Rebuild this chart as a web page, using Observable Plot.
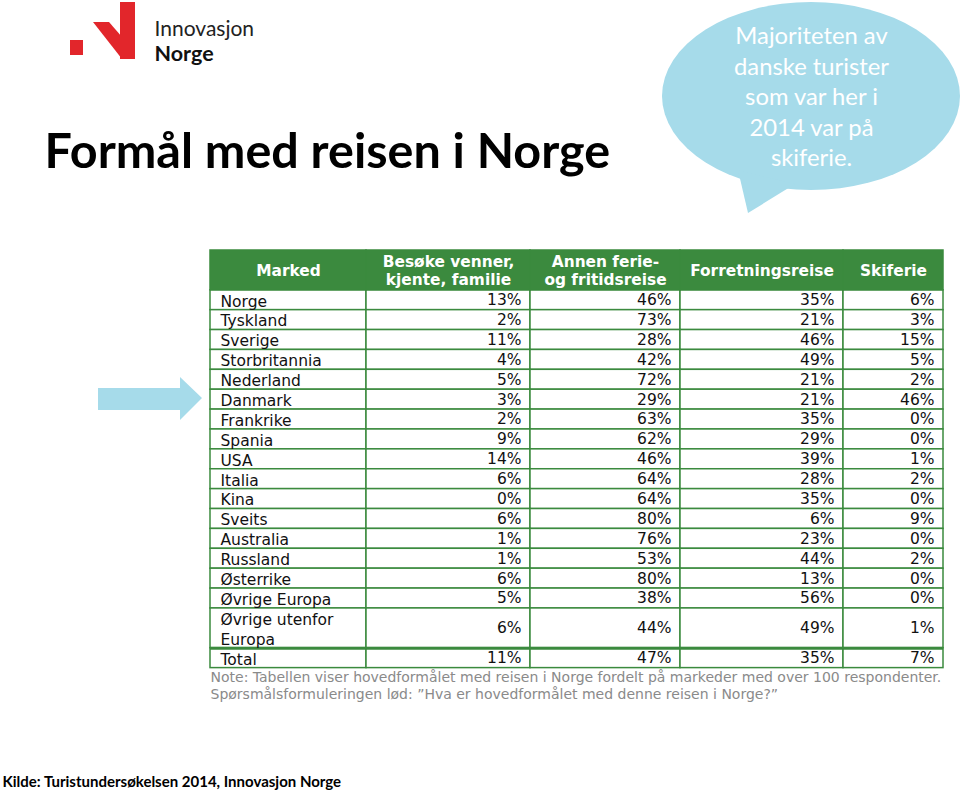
<!DOCTYPE html>
<html>
<head>
<meta charset="utf-8">
<script src="https://cdn.jsdelivr.net/npm/d3@7"></script>
<script src="https://cdn.jsdelivr.net/npm/@observablehq/plot@0.6"></script>
<style>
  html, body { margin: 0; padding: 0; background: #fff; }
  #wrap { position: relative; width: 960px; height: 790px; overflow: hidden; }
  #deco, #chart svg { position: absolute; left: 0; top: 0; }
</style>
</head>
<body>
<div id="wrap">
  <svg id="deco" width="960" height="790" viewBox="0 0 960 790">
    <!-- logo -->
    <rect x="70" y="40" width="13" height="15" fill="#e2262b"/>
    <polygon points="93,22 109,22 135,52 135,59 122,59" fill="#e2262b"/>
    <rect x="120" y="2" width="15" height="57" fill="#e2262b"/>
    <!-- speech bubble -->
    <ellipse cx="811" cy="96" rx="149" ry="94" fill="#a6dbea"/>
    <polygon points="738,170 748,213 795,184" fill="#a6dbea"/>
    <!-- arrow -->
    <polygon points="98,388 180,388 180,377 202,398 180,420 180,410 98,410" fill="#a6dbea"/>
  </svg>
  <div id="chart"></div>
</div>
<script>
// ---- data ----
const columns = ["Marked", "Besøke venner,\nkjente, familie", "Annen ferie-\nog fritidsreise", "Forretningsreise", "Skiferie"];
const markets = ["Norge", "Tyskland", "Sverige", "Storbritannia", "Nederland", "Danmark", "Frankrike", "Spania", "USA", "Italia", "Kina", "Sveits", "Australia", "Russland", "Østerrike", "Øvrige Europa", "Øvrige utenfor\nEuropa", "Total"];
const besokeVenner = [13, 2, 11, 4, 5, 3, 2, 9, 14, 6, 0, 6, 1, 1, 6, 5, 6, 11];
const annenFerie   = [46, 73, 28, 42, 72, 29, 63, 62, 46, 64, 64, 80, 76, 53, 80, 38, 44, 47];
const forretning   = [35, 21, 46, 49, 21, 21, 35, 29, 39, 28, 35, 6, 23, 44, 13, 56, 49, 35];
const skiferie     = [6, 3, 15, 5, 2, 46, 0, 0, 1, 2, 0, 9, 0, 2, 0, 0, 1, 7];
const title = "Formål med reisen i Norge";
const bubbleText = "Majoriteten av\ndanske turister\nsom var her i\n2014 var på\nskiferie.";
const noteText = "Note: Tabellen viser hovedformålet med reisen i Norge fordelt på markeder med over 100 respondenter.\nSpørsmålsformuleringen lød: \u201DHva er hovedformålet med denne reisen i Norge?\u201D";
const sourceText = "Kilde: Turistundersøkelsen 2014, Innovasjon Norge";
const logoText = ["Innovasjon", "Norge"];

// ---- layout (table geometry) ----
const green = "#3b8a3e";
const colWidths = [156, 164, 150, 163, 100];
const colEdges = colWidths.reduce((a, w) => (a.push(a[a.length - 1] + w), a), [0]);
const headerUnits = 2;
const series = [besokeVenner, annenFerie, forretning, skiferie];

let acc = headerUnits;
const rows = markets.map((m, i) => {
  const n = m.split("\n").length;
  const r = {market: m, i, y1: acc, y2: acc + n, yc: acc + n / 2};
  acc += n;
  return r;
});
const totalUnits = acc;

const headerCells = columns.map((c, j) => ({label: c, x1: colEdges[j], x2: colEdges[j + 1], xc: (colEdges[j] + colEdges[j + 1]) / 2}));
const cells = [];
const valueCells = [];
for (const r of rows) {
  for (let j = 0; j < columns.length; j++) {
    cells.push({x1: colEdges[j], x2: colEdges[j + 1], y1: r.y1, y2: r.y2});
    if (j > 0) valueCells.push({x: colEdges[j + 1], y: r.yc, text: series[j - 1][r.i] + "%"});
  }
}
const totalRow = rows[rows.length - 1];

const tableFont = "DejaVu Sans, Verdana, sans-serif";
const slideFont = "Lato, Carlito, Calibri, sans-serif";

const chart = Plot.plot({
  width: 960,
  height: 790,
  margin: 0,
  style: {background: "transparent", overflow: "visible"},
  x: {type: "linear", domain: [0, colEdges[colEdges.length - 1]], range: [210, 943], axis: null},
  y: {type: "linear", domain: [0, totalUnits], range: [250, 667.6], axis: null},
  marks: [
    // body cells
    Plot.rect(cells, {x1: "x1", x2: "x2", y1: "y1", y2: "y2", fill: "white", stroke: green, strokeWidth: 1.5}),
    // header
    Plot.rect(headerCells, {x1: "x1", x2: "x2", y1: () => 0, y2: () => headerUnits, fill: green, stroke: green, strokeWidth: 1.5}),
    Plot.ruleY([totalRow.y1], {x1: 0, x2: colEdges[colEdges.length - 1], stroke: green, strokeWidth: 3}),
    Plot.text(headerCells, {x: "xc", y: () => headerUnits / 2, text: "label", fill: "white", fontFamily: tableFont, fontWeight: "bold", fontSize: 15.4, lineHeight: 1.18}),
    Plot.text(rows, {x: () => 0, y: "yc", text: "market", textAnchor: "start", dx: 10, fill: "#111", fontFamily: tableFont, fontSize: 15.5, lineHeight: 1.28}),
    Plot.text(valueCells, {x: "x", y: "y", text: "text", textAnchor: "end", dx: -9, fill: "#111", fontFamily: tableFont, fontSize: 15.5}),
    // note
    Plot.text([noteText], {x: () => 0, y: () => totalUnits, text: d => d, textAnchor: "start", lineAnchor: "top", dy: 2, fill: "#8a8a8a", fontFamily: tableFont, fontSize: 14, lineHeight: 1.22}),
    // slide texts
    Plot.text([title], {frameAnchor: "top-left", text: d => d, textAnchor: "start", lineAnchor: "bottom", dx: 44, dy: 167, fill: "#000", fontFamily: slideFont, fontWeight: "bold", fontSize: 48.5}),
    Plot.text([bubbleText], {frameAnchor: "top-left", text: d => d, textAnchor: "middle", lineAnchor: "middle", dx: 811, dy: 95, fill: "white", fontFamily: slideFont, fontSize: 23.8, lineHeight: 1.28}),
    Plot.text([logoText[0]], {frameAnchor: "top-left", text: d => d, textAnchor: "start", lineAnchor: "bottom", dx: 154, dy: 35, fill: "#222", fontFamily: slideFont, fontSize: 21}),
    Plot.text([logoText[1]], {frameAnchor: "top-left", text: d => d, textAnchor: "start", lineAnchor: "bottom", dx: 154, dy: 60, fill: "#111", fontFamily: slideFont, fontWeight: "bold", fontSize: 21.5}),
    Plot.text([sourceText], {frameAnchor: "top-left", text: d => d, textAnchor: "start", lineAnchor: "bottom", dx: 2, dy: 786, fill: "#000", fontFamily: slideFont, fontWeight: "bold", fontSize: 15})
  ]
});
document.getElementById("chart").appendChild(chart);
</script>
</body>
</html>
